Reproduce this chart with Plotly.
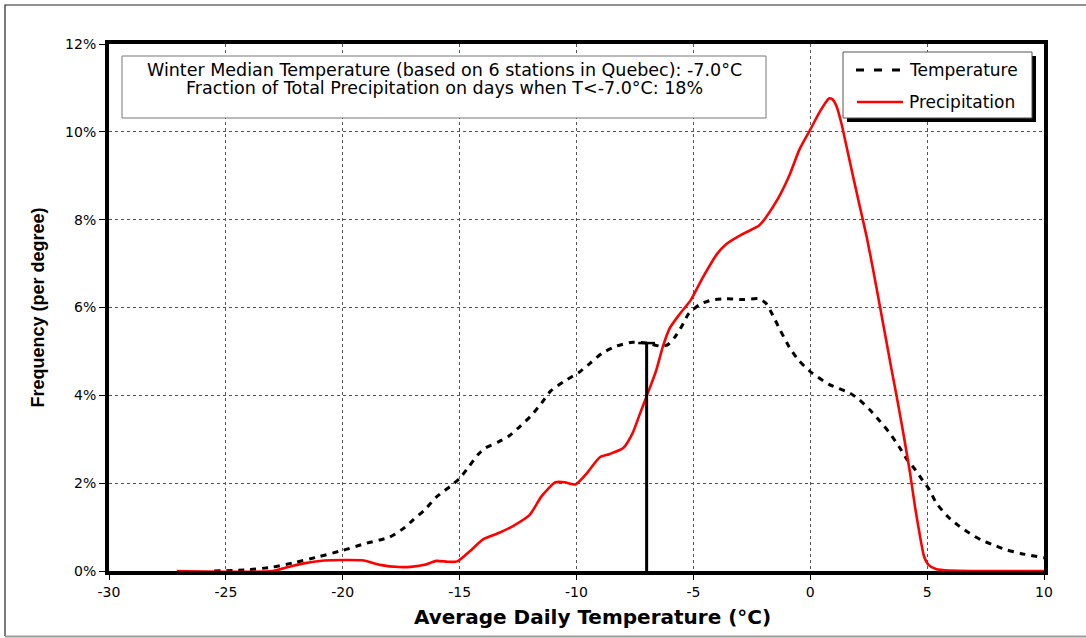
import plotly.graph_objects as go

# Temperature frequency distribution (% per degree), winter days, 6 Quebec stations
temp_x = [-25.5, -24.0, -23.0, -22.0, -21.0, -20.0, -19.0, -18.0, -17.4, -17.0,
          -16.5, -16.0, -15.4, -15.0, -14.6, -14.2, -13.9, -13.3, -12.9, -12.4,
          -11.9, -11.5, -11.1, -10.4, -9.9, -9.4, -8.9, -8.3, -7.6, -7.0,
          -6.4, -6.1, -5.8, -5.5, -5.2, -4.7, -4.2, -3.6, -2.9, -2.2,
          -1.9, -1.6, -1.3, -0.9, -0.5, 0.0, 0.8, 1.7, 2.1, 2.55,
          3.0, 3.4, 3.8, 4.1, 4.5, 4.8, 5.1, 5.4, 5.9, 6.3,
          6.7, 7.3, 7.9, 8.4, 9.0, 10.0]
temp_y = [0.0, 0.03, 0.09, 0.20, 0.33, 0.47, 0.63, 0.77, 0.97, 1.16,
          1.39, 1.68, 1.93, 2.11, 2.38, 2.66, 2.80, 2.95, 3.07, 3.30,
          3.56, 3.82, 4.10, 4.36, 4.52, 4.74, 4.96, 5.12, 5.21, 5.19,
          5.12, 5.15, 5.32, 5.57, 5.86, 6.08, 6.17, 6.20, 6.18, 6.20,
          6.10, 5.82, 5.50, 5.10, 4.80, 4.54, 4.25, 4.05, 3.90, 3.67,
          3.40, 3.14, 2.83, 2.57, 2.30, 2.07, 1.85, 1.54, 1.23, 1.05,
          0.90, 0.71, 0.58, 0.48, 0.40, 0.30]

# Precipitation distribution (% of total per degree of daily temperature)
precip_x = [-27.1, -23.0, -22.2, -21.6, -20.8, -20.0, -19.1, -18.4, -17.6, -17.0,
            -16.5, -16.0, -15.5, -15.1, -14.5, -14.0, -13.3, -12.7, -12.0, -11.5,
            -10.9, -10.5, -10.05, -9.6, -9.0, -8.6, -8.0, -7.6, -7.3, -7.0,
            -6.6, -6.3, -6.0, -5.6, -5.1, -4.6, -4.0, -3.6, -2.9, -2.2,
            -1.9, -1.4, -0.9, -0.46, 0.0, 0.4, 0.8, 0.95, 1.12, 1.33, 1.55,
            1.83, 2.12, 2.41, 2.69, 2.98, 3.27, 3.48, 3.70, 3.98, 4.27,
            4.48, 4.70, 4.87, 5.06, 5.4, 6.0, 7.0, 10.0]
precip_y = [0.0, 0.0, 0.11, 0.18, 0.24, 0.25, 0.24, 0.14, 0.09, 0.10,
            0.14, 0.23, 0.21, 0.22, 0.48, 0.72, 0.87, 1.03, 1.28, 1.70,
            2.02, 2.02, 1.97, 2.20, 2.59, 2.66, 2.80, 3.14, 3.56, 3.98,
            4.55, 5.12, 5.54, 5.84, 6.18, 6.68, 7.21, 7.44, 7.67, 7.86,
            8.05, 8.46, 9.00, 9.60, 10.05, 10.45, 10.76, 10.74, 10.59, 10.20, 9.67,
            8.99, 8.30, 7.62, 6.86, 6.03, 5.19, 4.58, 3.97, 3.14, 2.23,
            1.47, 0.78, 0.33, 0.14, 0.04, 0.01, 0.0, 0.0]

# Median winter temperature and the temperature frequency at that point
median_x = -7.0
median_top = 5.19

x_ticks = [-30, -25, -20, -15, -10, -5, 0, 5, 10]
y_ticks = [0, 2, 4, 6, 8, 10, 12]

info_lines = [
    "Winter Median Temperature (based on 6 stations in Quebec): -7.0°C",
    "Fraction of Total Precipitation on days when T<-7.0°C: 18%",
]
series_names = ["Temperature", "Precipitation"]
x_title = "Average Daily Temperature (°C)"
y_title = "Frequency (per degree)"

W, H = 1086, 638
ML, MR, MT, MB = 109, 42, 44, 67
PW, PH = W - ML - MR, H - MT - MB


def px(x):
    return (x - ML) / PW


def py(y):
    return (H - MB - y) / PH


FONT = "DejaVu Sans, Verdana, Arial, sans-serif"
NARROW = "Liberation Sans Narrow, Arial Narrow, Liberation Sans, Arial, sans-serif"

fig = go.Figure()

fig.add_trace(go.Scatter(
    x=temp_x, y=temp_y, mode="lines", name=series_names[0],
    line=dict(color="black", width=3, dash="6px,6px", shape="spline", smoothing=0.6),
    showlegend=False, hoverinfo="skip",
))
fig.add_trace(go.Scatter(
    x=precip_x, y=precip_y, mode="lines", name=series_names[1],
    line=dict(color="#ff0000", width=2.6, shape="spline", smoothing=0.6),
    showlegend=False, hoverinfo="skip",
))
# Median marker: vertical bar with a small cap at the temperature curve
fig.add_trace(go.Scatter(
    x=[median_x, median_x], y=[0, median_top], mode="lines",
    line=dict(color="black", width=3), showlegend=False, hoverinfo="skip",
))
fig.add_trace(go.Scatter(
    x=[median_x], y=[median_top], mode="markers",
    marker=dict(symbol="line-ew", size=12, line=dict(color="black", width=2.5)),
    showlegend=False, hoverinfo="skip",
))

shapes = []
annotations = []

# Outer page frame
shapes.append(dict(type="path", xref="paper", yref="paper",
                   path=f"M {px(1100)},{py(5)} L {px(5)},{py(5)} L {px(5)},{py(636)}",
                   line=dict(color="#222", width=1.2), layer="above"))
shapes.append(dict(type="line", xref="paper", yref="paper",
                   x0=px(5), x1=px(1100), y0=py(636.5), y1=py(636.5),
                   line=dict(color="#999", width=2), layer="above"))

# Info box
shapes.append(dict(type="rect", xref="paper", yref="paper",
                   x0=px(122), x1=px(766), y0=py(118), y1=py(56),
                   line=dict(color="#777", width=1), fillcolor="white", layer="above"))
for i, t in enumerate(info_lines):
    annotations.append(dict(xref="paper", yref="paper", x=px(444), y=py(70 + 18 * i),
                            text=t, showarrow=False, xanchor="center", yanchor="middle",
                            font=dict(family=FONT, size=17.5, color="black")))

# Legend box with drop shadow
shapes.append(dict(type="rect", xref="paper", yref="paper",
                   x0=px(847), x1=px(1036), y0=py(122), y1=py(56),
                   line=dict(width=0), fillcolor="black", layer="above"))
shapes.append(dict(type="rect", xref="paper", yref="paper",
                   x0=px(843), x1=px(1032), y0=py(118), y1=py(52),
                   line=dict(color="#555", width=1), fillcolor="white", layer="above"))
shapes.append(dict(type="line", xref="paper", yref="paper",
                   x0=px(856), x1=px(900), y0=py(70), y1=py(70),
                   line=dict(color="black", width=3, dash="8px,10px"), layer="above"))
shapes.append(dict(type="line", xref="paper", yref="paper",
                   x0=px(857), x1=px(903), y0=py(102), y1=py(102),
                   line=dict(color="#ff0000", width=2.6), layer="above"))
for name, yy in zip(series_names, [70, 102]):
    annotations.append(dict(xref="paper", yref="paper", x=px(907), y=py(yy),
                            text=name, showarrow=False, xanchor="left", yanchor="middle",
                            font=dict(family=FONT, size=17, color="black")))

# X axis title, set slightly right of the plot centre
annotations.append(dict(xref="paper", yref="paper", x=px(592), y=py(617),
                        text=x_title, showarrow=False, xanchor="center", yanchor="middle",
                        font=dict(family=FONT, size=20, color="black", weight="bold")))

fig.update_layout(
    width=W, height=H,
    margin=dict(l=ML, r=MR, t=MT, b=MB, autoexpand=False),
    paper_bgcolor="white", plot_bgcolor="white",
    shapes=shapes, annotations=annotations,
    xaxis=dict(
        range=[-30, 10], tickvals=x_ticks, ticktext=[str(v) for v in x_ticks],
        showgrid=True, gridcolor="#555", griddash="dot", gridwidth=1,
        showline=True, linecolor="black", linewidth=4, mirror=True,
        ticks="outside", ticklen=5, tickwidth=1, tickcolor="black",
        tickfont=dict(family=FONT, size=14, color="black"), zeroline=False,
    ),
    yaxis=dict(
        range=[0, 12], tickvals=y_ticks, ticktext=[f"{v}%" for v in y_ticks],
        showgrid=True, gridcolor="#555", griddash="dot", gridwidth=1,
        showline=True, linecolor="black", linewidth=4, mirror=True,
        ticks="outside", ticklen=6, tickwidth=1, tickcolor="black",
        tickfont=dict(family=FONT, size=14, color="black"), zeroline=False,
        title=dict(text=y_title, standoff=17,
                   font=dict(family=NARROW, size=18, color="black", weight="bold")),
    ),
)

fig.write_html("out.html")
